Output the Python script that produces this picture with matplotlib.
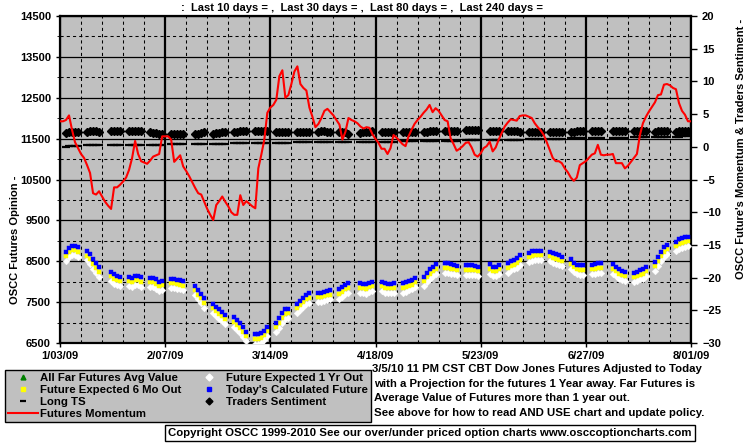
import datetime as dt

import numpy as np
import pandas as pd
import matplotlib
matplotlib.use("Agg")
import matplotlib.pyplot as plt
import matplotlib.dates as mdates
from matplotlib.lines import Line2D
from matplotlib.ticker import FixedLocator, FuncFormatter

plt.rcParams["font.family"] = ["Liberation Sans", "DejaVu Sans"]
plt.rcParams["font.weight"] = "bold"

# ---- data ----
HOLIDAYS = ["2009-01-19", "2009-02-16", "2009-04-10", "2009-05-25", "2009-07-03"]

# Today's Calculated Future (blue), one per trading day 1/05/09 .. 7/31/09
calc_future = [
    8735, 8830, 8875, 8875, 8840,  8750, 8670, 8550, 8450, 8350,  8245, 8185, 8145, 8120,
    8120, 8095, 8140, 8145, 8105,  8095, 8095, 8055, 8000, 8025,  8075, 8075, 8050, 8040, 8015,
    7900, 7795, 7700, 7590,  7455, 7390, 7325, 7265, 7185,  7125, 7060, 6980, 6880, 6775,
    6710, 6710, 6735, 6800, 6900,  6995, 7100, 7225, 7325, 7340,  7455, 7535, 7610, 7675, 7715,
    7730, 7730, 7755, 7780, 7795,  7810, 7860, 7920, 7960,  7960, 7945, 7935, 7975, 8000,
    8000, 7960, 7945, 7945, 7960,  7960, 7985, 8015, 8040, 8100,  8120, 8220, 8300, 8365, 8425,
    8450, 8450, 8425, 8410, 8385,  8400, 8400, 8400, 8385, 8365,  8425, 8365, 8365, 8410,
    8450, 8505, 8530, 8570, 8645,  8710, 8745, 8760, 8760, 8760,  8735, 8695, 8670, 8645, 8610,
    8545, 8465, 8410, 8400, 8400,  8410, 8425, 8450, 8450,  8425, 8365, 8300, 8270, 8245,
    8220, 8245, 8285, 8300, 8365,  8490, 8610, 8735, 8840, 8900,  8980, 9035, 9060, 9085, 9100,
]
# Future Expected 6 Mo Out (yellow)
fut_6mo = [
    8625, 8720, 8765, 8765, 8730,  8640, 8560, 8440, 8340, 8240,  8135, 8075, 8035, 8010,
    8010, 7985, 8030, 8035, 7995,  7985, 7985, 7945, 7890, 7915,  7965, 7965, 7940, 7930, 7905,
    7790, 7685, 7590, 7480,  7345, 7280, 7215, 7155, 7075,  7015, 6950, 6870, 6770, 6665,
    6600, 6600, 6625, 6690, 6790,  6885, 6990, 7115, 7215, 7230,  7345, 7425, 7500, 7565, 7605,
    7620, 7620, 7645, 7670, 7685,  7700, 7750, 7810, 7850,  7850, 7835, 7825, 7865, 7890,
    7890, 7850, 7835, 7835, 7850,  7850, 7875, 7905, 7930, 7990,  8010, 8110, 8190, 8255, 8315,
    8340, 8340, 8315, 8300, 8275,  8290, 8290, 8290, 8275, 8255,  8315, 8255, 8255, 8300,
    8340, 8395, 8420, 8460, 8535,  8600, 8635, 8650, 8650, 8650,  8625, 8585, 8560, 8535, 8500,
    8435, 8355, 8300, 8290, 8290,  8300, 8315, 8340, 8340,  8315, 8255, 8190, 8160, 8135,
    8110, 8135, 8175, 8190, 8255,  8380, 8500, 8625, 8730, 8790,  8870, 8925, 8950, 8975, 8990,
]
# Future Expected 1 Yr Out (white)
fut_1yr = [
    8505, 8600, 8645, 8645, 8610,  8520, 8440, 8320, 8220, 8120,  8015, 7955, 7915, 7890,
    7890, 7865, 7910, 7915, 7875,  7865, 7865, 7825, 7770, 7795,  7845, 7845, 7820, 7810, 7785,
    7670, 7565, 7470, 7360,  7225, 7160, 7095, 7035, 6955,  6895, 6830, 6750, 6650, 6545,
    6480, 6480, 6505, 6570, 6670,  6765, 6870, 6995, 7095, 7110,  7225, 7305, 7380, 7445, 7485,
    7500, 7500, 7525, 7550, 7565,  7580, 7630, 7690, 7730,  7730, 7715, 7705, 7745, 7770,
    7770, 7730, 7715, 7715, 7730,  7730, 7755, 7785, 7810, 7870,  7890, 7990, 8070, 8135, 8195,
    8220, 8220, 8195, 8180, 8155,  8170, 8170, 8170, 8155, 8135,  8195, 8135, 8135, 8180,
    8220, 8275, 8300, 8340, 8415,  8480, 8515, 8530, 8530, 8530,  8505, 8465, 8440, 8415, 8380,
    8315, 8235, 8180, 8170, 8170,  8180, 8195, 8220, 8220,  8195, 8135, 8070, 8040, 8015,
    7990, 8015, 8055, 8070, 8135,  8260, 8380, 8505, 8610, 8670,  8750, 8805, 8830, 8855, 8870,
]
# Traders Sentiment (right axis)
sentiment = [
    2.1, 2.2, 2.3, 2.3, 2.3,  2.3, 2.35, 2.35, 2.35, 2.3,  2.4, 2.45, 2.45, 2.45,
    2.45, 2.45, 2.4, 2.4, 2.4,  2.25, 2.15, 2.1, 1.95, 1.95,  1.9, 1.95, 1.95, 1.95, 1.95,
    1.9, 2.0, 2.1, 2.2,  2.0, 2.1, 2.15, 2.2, 2.25,  2.25, 2.3, 2.35, 2.35, 2.35,
    2.35, 2.4, 2.4, 2.45, 2.45,  2.25, 2.25, 2.2, 2.2, 2.2,  2.2, 2.25, 2.25, 2.3, 2.3,
    2.3, 2.35, 2.35, 2.3, 2.3,  2.3, 2.25, 2.3, 1.95,  2.15, 2.25, 2.25, 2.3, 2.35,
    2.25, 2.25, 2.2, 2.2, 2.25,  2.2, 2.25, 2.3, 2.3, 2.25,  2.2, 2.25, 2.35, 2.4, 2.45,
    2.45, 2.45, 2.45, 2.45, 2.45,  2.5, 2.55, 2.55, 2.55, 2.5,  2.4, 2.45, 2.45, 2.4,
    2.45, 2.4, 2.45, 2.45, 2.3,  2.25, 2.2, 2.25, 2.25, 2.25,  2.25, 2.2, 2.25, 2.25, 2.25,
    2.25, 2.3, 2.35, 2.35, 2.35,  2.4, 2.45, 2.45, 2.45,  2.45, 2.45, 2.45, 2.45, 2.45,
    2.45, 2.45, 2.45, 2.45, 2.45,  2.3, 2.35, 2.35, 2.35, 2.35,  2.3, 2.35, 2.35, 2.35, 2.35,
]
# Long TS (right axis)
long_ts = [
    0.0, 0.05, 0.1, 0.1, 0.1,  0.2, 0.2, 0.2, 0.2, 0.2,  0.25, 0.25, 0.25, 0.25,
    0.3, 0.3, 0.3, 0.3, 0.3,  0.35, 0.35, 0.35, 0.35, 0.35,  0.4, 0.45, 0.45, 0.45, 0.45,
    0.5, 0.5, 0.5, 0.5,  0.5, 0.5, 0.5, 0.5, 0.5,  0.55, 0.55, 0.55, 0.55, 0.55,
    0.6, 0.6, 0.6, 0.6, 0.6,  0.65, 0.65, 0.65, 0.65, 0.65,  0.7, 0.7, 0.7, 0.7, 0.7,
    0.7, 0.75, 0.75, 0.75, 0.75,  0.75, 0.75, 0.75, 0.75,  0.8, 0.8, 0.8, 0.8, 0.8,
    0.8, 0.8, 0.8, 0.8, 0.8,  0.85, 0.85, 0.85, 0.85, 0.85,  0.9, 0.9, 0.9, 0.9, 0.9,
    0.95, 0.95, 0.95, 0.95, 0.95,  1.0, 1.0, 1.0, 1.0, 1.0,  1.05, 1.05, 1.05, 1.05,
    1.1, 1.1, 1.1, 1.1, 1.1,  1.15, 1.15, 1.15, 1.15, 1.15,  1.2, 1.2, 1.2, 1.2, 1.2,
    1.3, 1.3, 1.3, 1.3, 1.3,  1.35, 1.35, 1.35, 1.35,  1.4, 1.4, 1.4, 1.4, 1.4,
    1.45, 1.45, 1.45, 1.45, 1.45,  1.45, 1.45, 1.45, 1.45, 1.45,  1.5, 1.55, 1.6, 1.6, 1.6,
]
# Futures Momentum (right axis), one per calendar day 1/02/09 .. 8/01/09
momentum = [
    3.9, 3.9, 3.9, 4.1, 4.8, 2.6, 0.7, -0.2, -1.1, -1.7, -2.8, -4.0, -7.1, -7.3,
    -6.8, -7.6, -8.4, -9.0, -9.5, -6.2, -6.2, -5.8, -5.3, -4.7, -3.5, -1.7, 0.9, -1.1,
    -2.2, -2.4, -2.6, -2.1, -1.5, -1.3, -1.1, 1.6, 1.6, 1.6, 1.1, -2.3, -1.8, -1.3,
    -3.0, -3.7, -4.5, -5.4, -6.3, -7.1, -7.3, -8.4, -9.5, -10.4, -11.2, -8.9, -8.3, -7.6,
    -8.4, -9.1, -10.0, -10.4, -10.4, -7.4, -8.9, -8.3, -8.7, -9.1, -9.4, -3.3, -1.2, 1.1,
    5.2, 6.0, 6.4, 7.2, 10.8, 11.7, 7.5, 7.9, 9.6, 11.5, 12.3, 9.6, 9.0, 8.6,
    6.0, 4.6, 3.0, 3.5, 4.4, 5.5, 5.8, 5.3, 4.8, 4.1, 3.4, 1.1, 2.3, 4.4,
    4.1, 3.9, 3.6, 3.1, 2.8, 3.0, 2.9, 1.9, 1.2, 0.6, -0.3, -0.3, -1.1, -0.2,
    1.8, 1.4, 0.9, 0.4, 0.1, 1.6, 2.6, 3.5, 4.1, 4.6, 5.2, 5.7, 6.4, 5.3,
    5.9, 5.5, 4.8, 4.1, 3.9, 1.3, 0.4, -0.6, -0.3, 0.1, 0.6, 0.7, -0.1, -1.2,
    -1.5, -1.0, -0.2, 0.1, 0.8, -0.7, -0.1, 1.1, 2.1, 3.1, 3.7, 4.2, 4.1, 4.0,
    4.7, 4.8, 4.8, 4.6, 4.4, 3.6, 3.0, 2.5, 1.8, 0.7, -0.5, -1.7, -2.2, -2.2,
    -2.5, -3.3, -3.9, -4.7, -5.2, -4.7, -2.8, -2.5, -2.2, -1.7, -1.2, -1.0, 0.3, -1.2,
    -1.3, -1.2, -1.2, -1.1, -2.5, -2.5, -2.5, -3.3, -2.9, -2.3, -1.7, -1.1, 1.8, 3.6,
    4.6, 5.4, 6.1, 6.8, 7.9, 8.0, 9.5, 9.6, 9.4, 9.0, 8.8, 6.7, 5.5, 4.9,
    3.9, 3.9,
]

TITLE = ":  Last 10 days = ,  Last 30 days = ,  Last 80 days = ,  Last 240 days ="
NOTES = [
    "3/5/10 11 PM CST CBT Dow Jones Futures Adjusted to Today",
    "with a Projection for the futures 1 Year away. Far Futures is",
    "Average Value of Futures more than 1 year out.",
    "See above for how to read AND USE chart and update policy.",
]
COPYRIGHT = ("Copyright OSCC 1999-2010 See our over/under priced option charts "
             "www.osccoptioncharts.com")

# ---- x positions ----
trade_days = pd.bdate_range("2009-01-05", "2009-07-31")
trade_days = trade_days[~trade_days.isin(pd.to_datetime(HOLIDAYS))]
cal_days = pd.date_range("2009-01-02", periods=len(momentum), freq="D")

SILVER = "#c0c0c0"
W, H = 755, 446

fig = plt.figure(figsize=(W / 100, H / 100), dpi=100)
fig.patch.set_facecolor("white")
ax = fig.add_axes([60 / W, 1 - 343 / H, 631 / W, 327 / H])
ax.set_facecolor(SILVER)

x0, x1 = dt.datetime(2009, 1, 3), dt.datetime(2009, 8, 1)
ax.set_xlim(x0, x1)
ax.set_ylim(6500, 14500)

major_x = [x0 + dt.timedelta(days=35 * i) for i in range(7)]
minor_x = [x0 + dt.timedelta(days=7 * i) for i in range(31)]
ax.xaxis.set_major_locator(FixedLocator(mdates.date2num(major_x)))
ax.xaxis.set_minor_locator(FixedLocator(mdates.date2num(minor_x)))
ax.xaxis.set_major_formatter(FuncFormatter(
    lambda v, p: (lambda d: f"{d.month}/{d.day:02d}/{d:%y}")(mdates.num2date(v))))
ax.yaxis.set_major_locator(FixedLocator(np.arange(6500, 14501, 1000)))
ax.yaxis.set_minor_locator(FixedLocator(np.arange(7000, 14001, 1000)))

ax.grid(which="major", axis="x", color="black", lw=1.6)
ax.grid(which="minor", axis="x", color="black", lw=0.75, ls=(0, (3, 3)))
ax.grid(which="major", axis="y", color="black", lw=0.9)
ax.grid(which="minor", axis="y", color="black", lw=0.75, ls=(0, (3, 3)))
ax.set_axisbelow(True)

ax.tick_params(axis="both", which="major", direction="out", length=3, width=1,
               labelsize=8)
ax.tick_params(axis="x", which="major", pad=2.5)
ax.tick_params(axis="x", which="minor", length=0)
ax.tick_params(axis="y", which="minor", length=2)
for s in ax.spines.values():
    s.set_linewidth(1.6)

# futures markers: white diamonds, yellow squares, blue squares
ax.plot(trade_days, fut_1yr, ls="none", marker="D", ms=3.4, mfc="white",
        mec="white", mew=0.3, zorder=3)
ax.plot(trade_days, fut_6mo, ls="none", marker="s", ms=3.0, mfc="#ffff00",
        mec="#ffff00", mew=0.3, zorder=4)
ax.plot(trade_days, calc_future, ls="none", marker="s", ms=2.6, mfc="#0000ff",
        mec="#0000ff", mew=0.3, zorder=5)

ax2 = ax.twinx()
ax2.set_ylim(-30, 20)
ax2.set_yticks(np.arange(-30, 21, 5))
ax2.tick_params(axis="y", direction="out", length=4, width=1, labelsize=8, pad=4)
for s in ax2.spines.values():
    s.set_visible(False)
ax2.plot(trade_days, long_ts, ls="none", marker="_", ms=5.5, mew=1.6,
         color="black", zorder=3)
ax2.plot(trade_days, sentiment, ls="none", marker="D", ms=3.6, color="black",
         zorder=4)
ax2.plot(cal_days, momentum, color="#ff0000", lw=1.5, zorder=5)
ax2.set_xlim(x0, x1)

for lab in ax.get_xticklabels() + ax.get_yticklabels() + ax2.get_yticklabels():
    lab.set_fontweight("bold")

fig.text(15 / W, 1 - 240 / H, "OSCC Futures Opinion -", rotation=90,
         ha="center", va="center", fontsize=8, fontweight="bold")
fig.text(741 / W, 1 - 149 / H, "OSCC Future's Momentum & Traders Sentiment -",
         rotation=90, ha="center", va="center", fontsize=8, fontweight="bold")
fig.text(362 / W, 1 - 8 / H, TITLE, ha="center", va="center", fontsize=8,
         fontweight="bold")

for i, (line, yy) in enumerate(zip(NOTES, [369, 384, 398, 413])):
    fig.text((372 if i == 0 else 374) / W, 1 - yy / H, line, ha="left",
             va="center", fontsize=8.2, fontweight="bold")

fig.text(430 / W, 1 - 433 / H, COPYRIGHT, ha="center", va="center", fontsize=8.2,
         fontweight="bold",
         bbox=dict(boxstyle="square,pad=0.25", fc="white", ec="black", lw=1))

handles = [
    Line2D([], [], ls="none", marker="^", ms=3.5, color="#008000"),
    Line2D([], [], ls="none", marker="s", ms=3.5, color="#ffff00"),
    Line2D([], [], ls="none", marker="_", ms=5, mew=1.6, color="black"),
    Line2D([], [], color="#ff0000", lw=1.5),
    Line2D([], [], ls="none", marker="D", ms=3.5, color="white"),
    Line2D([], [], ls="none", marker="s", ms=3, color="#0000ff"),
    Line2D([], [], ls="none", marker="D", ms=3.5, color="black"),
]
labels = ["All Far Futures Avg Value", "Future Expected 6 Mo Out", "Long TS",
          "Futures Momentum", "Future Expected 1 Yr Out",
          "Today's Calculated Future", "Traders Sentiment"]
leg = fig.legend(handles, labels, loc="upper left",
                 bbox_to_anchor=(5 / W, 1 - 370 / H), ncol=2,
                 prop={"weight": "bold", "size": 8.2}, frameon=True,
                 fancybox=False, facecolor=SILVER, edgecolor="black",
                 framealpha=1, borderpad=0.3, labelspacing=0.15,
                 handlelength=2.6, handletextpad=0.2, columnspacing=1.1,
                 borderaxespad=0)
leg.get_frame().set_linewidth(1)

fig.savefig("out.png", dpi=100, facecolor="white")
